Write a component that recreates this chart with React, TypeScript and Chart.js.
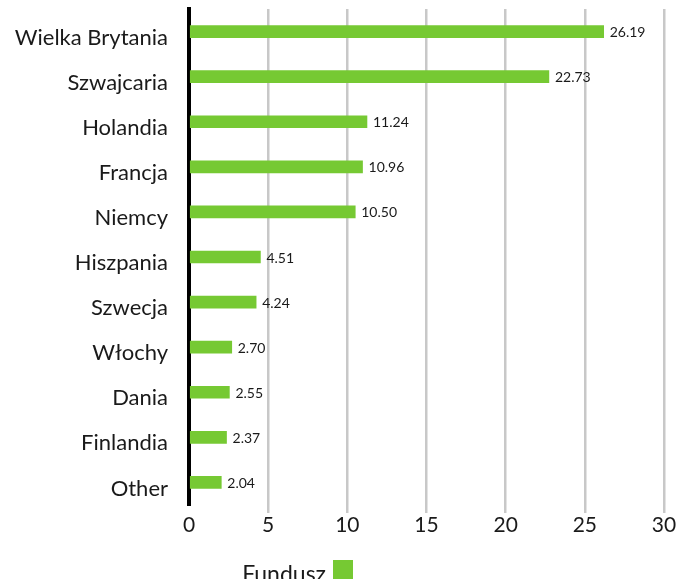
import React, { useEffect, useRef } from "react";
import { Chart, registerables } from "chart.js";

Chart.register(...registerables);

const categories = [
  "Wielka Brytania",
  "Szwajcaria",
  "Holandia",
  "Francja",
  "Niemcy",
  "Hiszpania",
  "Szwecja",
  "Włochy",
  "Dania",
  "Finlandia",
  "Other",
];
const fundValues = [26.19, 22.73, 11.24, 10.96, 10.5, 4.51, 4.24, 2.7, 2.55, 2.37, 2.04];
const seriesName = "Fundusz";
const xTicks = [0, 5, 10, 15, 20, 25, 30];

const GREEN = "#76C933";
const FONT = "Lato, 'Open Sans', sans-serif";

const valueLabels = {
  id: "valueLabels",
  afterDatasetsDraw(chart: any) {
    const ctx = chart.ctx;
    const meta = chart.getDatasetMeta(0);
    ctx.save();
    ctx.font = `14px ${FONT}`;
    ctx.fillStyle = "#1a1a1a";
    ctx.textBaseline = "middle";
    ctx.textAlign = "left";
    meta.data.forEach((bar: any, i: number) => {
      const v = chart.data.datasets[0].data[i] as number;
      ctx.fillText(v.toFixed(2), bar.x + 6, bar.y + 1);
    });
    ctx.restore();
  },
};

const customLegend = {
  id: "customLegend",
  afterDraw(chart: any) {
    const ctx = chart.ctx;
    ctx.save();
    ctx.font = `23px ${FONT}`;
    ctx.fillStyle = "#1a1a1a";
    ctx.textBaseline = "alphabetic";
    ctx.textAlign = "right";
    ctx.fillText(seriesName, 326, 582);
    ctx.fillStyle = GREEN;
    ctx.fillRect(333, 560, 20, 22);
    ctx.restore();
  },
};

export default function App() {
  const ref = useRef<HTMLCanvasElement | null>(null);
  useEffect(() => {
    if (!ref.current) return;
    const chart = new Chart(ref.current, {
      type: "bar",
      data: {
        labels: categories,
        datasets: [
          {
            label: seriesName,
            data: fundValues,
            backgroundColor: GREEN,
            barThickness: 12,
          },
        ],
      },
      options: {
        indexAxis: "y",
        animation: false,
        responsive: false,
        layout: { padding: { top: 9, right: 14, bottom: 40, left: 0 } },
        plugins: {
          legend: { display: false },
          tooltip: { enabled: false },
        },
        scales: {
          x: {
            min: 0,
            max: 30,
            afterBuildTicks: (axis: any) => {
              axis.ticks = xTicks.map((v) => ({ value: v }));
            },
            afterFit: (axis: any) => {
              axis.height = 34;
              axis.paddingLeft = 0;
              axis.paddingRight = 0;
            },
            grid: {
              color: (c: any) => (c.tick && c.tick.value === 0 ? "rgba(0,0,0,0)" : "#c8c8c8"),
              lineWidth: 2.5,
              tickLength: 8,
            },
            border: { display: false },
            ticks: {
              color: "#1a1a1a",
              font: { family: FONT, size: 21 },
              padding: 0,
            },
          },
          y: {
            afterFit: (axis: any) => {
              axis.width = 189;
              axis.paddingTop = 0;
              axis.paddingBottom = 0;
            },
            grid: { display: false, drawTicks: false },
            border: { display: true, color: "#000000", width: 4 },
            ticks: {
              color: "#1a1a1a",
              font: { family: FONT, size: 22 },
              padding: 21,
              labelOffset: 6,
              autoSkip: false,
            },
          },
        },
      },
      plugins: [valueLabels, customLegend],
    });
    return () => chart.destroy();
  }, []);
  return (
    <div style={{ position: "fixed", left: 0, top: 0, width: 678, height: 579, background: "#fff" }}>
      <canvas ref={ref} width={678} height={579} style={{ display: "block" }} />
    </div>
  );
}
